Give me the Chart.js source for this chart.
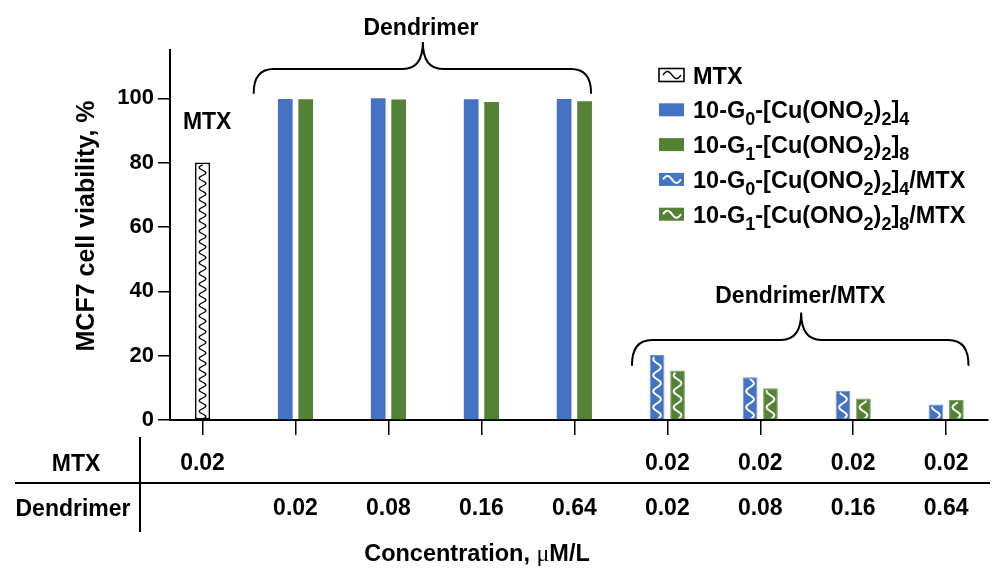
<!DOCTYPE html>
<html><head><meta charset="utf-8">
<script src="https://cdn.jsdelivr.net/npm/chart.js@4.4.1/dist/chart.umd.min.js"></script>
<style>html,body{margin:0;padding:0;background:#fff}#wrap{width:992px;height:571px;position:relative}</style>
</head><body><div id="wrap"><canvas id="c"></canvas></div>
<script>
// ---------- data ----------
const categories = ['MTX', 'D 0.02', 'D 0.08', 'D 0.16', 'D 0.64', 'D/MTX 0.02', 'D/MTX 0.08', 'D/MTX 0.16', 'D/MTX 0.64'];
const mtxConc  = ['0.02', '', '', '', '', '0.02', '0.02', '0.02', '0.02'];
const dendConc = ['', '0.02', '0.08', '0.16', '0.64', '0.02', '0.08', '0.16', '0.64'];
const yTickValues = [0, 20, 40, 60, 80, 100];
const seriesNames = ['MTX', '10-G_0-[Cu(ONO_2)_2]_4', '10-G_1-[Cu(ONO_2)_2]_8', '10-G_0-[Cu(ONO_2)_2]_4/MTX', '10-G_1-[Cu(ONO_2)_2]_8/MTX'];
const mtxValues   = [80, null, null, null, null, null, null, null, null];
const g0Values    = [null, 99.8, 100, 99.7, 99.8, null, null, null, null];
const g1Values    = [null, 99.7, 99.6, 98.8, 99.1, null, null, null, null];
const g0MtxValues = [null, null, null, null, null, 20.2, 13.3, 9.1, 4.8];
const g1MtxValues = [null, null, null, null, null, 15.4, 9.9, 6.7, 6.2];
const groupLabels = ['Dendrimer', 'Dendrimer/MTX'];
const rowLabels = ['MTX', 'Dendrimer'];
const yTitle = 'MCF7 cell viability, %';

// ---------- styles ----------
const FF = '"Liberation Sans", Arial, sans-serif';
const BLUE = '#4472C4', GREEN = '#548235';
const seriesStyle = [
  {fill: '#ffffff', border: '#000000', bw: 1.6, wave: '#000000', amp: 3.3, period: 10.6, lw: 1.4},
  {fill: BLUE, border: BLUE, bw: 0, wave: null},
  {fill: GREEN, border: GREEN, bw: 0, wave: null},
  {fill: BLUE, border: '#6f93d6', bw: 1, wave: '#ffffff', amp: 3.8, period: 16, lw: 2},
  {fill: GREEN, border: '#7ea064', bw: 1, wave: '#ffffff', amp: 3.8, period: 16, lw: 2}
];
const allValues = [mtxValues, g0Values, g1Values, g0MtxValues, g1MtxValues];

function parseRich(s) {
  const out = [];
  s.split(/_(\d)/).forEach((p, i) => { if (p) out.push({t: p, sub: i % 2 === 1}); });
  return out;
}
function drawRich(ctx, segs, x, y, size, align, subRatio) {
  const sr = subRatio || 0.68;
  const main = `bold ${size}px ${FF}`, sub = `bold ${Math.round(size * sr)}px ${FF}`;
  let total = 0;
  segs.forEach(s => { ctx.font = s.font || (s.sub ? sub : main); s.w = ctx.measureText(s.t).width; total += s.w; });
  let cx = align === 'center' ? x - total / 2 : x;
  ctx.textAlign = 'left'; ctx.textBaseline = 'alphabetic'; ctx.fillStyle = '#000';
  segs.forEach(s => { ctx.font = s.font || (s.sub ? sub : main); ctx.fillText(s.t, cx, y + (s.sub ? size * 0.3 : 0)); cx += s.w; });
}
function vWave(ctx, cx, yTop, yBot, amp, period) {
  ctx.beginPath();
  for (let y = yBot; y >= yTop - 1; y -= 0.5) {
    const x = cx + amp * Math.sin(2 * Math.PI * (yBot - y) / period);
    if (y === yBot) ctx.moveTo(x, y); else ctx.lineTo(x, y);
  }
  ctx.stroke();
}
function hWave(ctx, xL, xR, cy, amp, period) {
  ctx.beginPath();
  for (let x = xL; x <= xR; x += 0.5) {
    const y = cy - amp * Math.sin(2 * Math.PI * (x - xL) / period);
    if (x === xL) ctx.moveTo(x, y); else ctx.lineTo(x, y);
  }
  ctx.stroke();
}
function brace(ctx, x1, x2, xc, yEnd, yMid, yTip, r) {
  ctx.beginPath();
  ctx.moveTo(x1, yEnd);
  ctx.quadraticCurveTo(x1, yMid, x1 + r, yMid);
  ctx.lineTo(xc - r, yMid);
  ctx.quadraticCurveTo(xc, yMid, xc, yTip);
  ctx.quadraticCurveTo(xc, yMid, xc + r, yMid);
  ctx.lineTo(x2 - r, yMid);
  ctx.quadraticCurveTo(x2, yMid, x2, yEnd);
  ctx.stroke();
}

const wavePlugin = {
  id: 'waves',
  afterDatasetsDraw(chart) {
    const ctx = chart.ctx;
    chart.data.datasets.forEach((ds, di) => {
      const st = seriesStyle[di];
      if (!st.wave) return;
      chart.getDatasetMeta(di).data.forEach((el, i) => {
        if (ds.data[i].y == null) return;
        const {x, y, base, width} = el.getProps(['x', 'y', 'base', 'width'], true);
        ctx.save();
        ctx.beginPath();
        ctx.rect(x - width / 2 + 1, y + 1, width - 2, base - y - 2);
        ctx.clip();
        ctx.strokeStyle = st.wave; ctx.lineWidth = st.lw;
        vWave(ctx, x, y + 3, base, st.amp, st.period);
        ctx.restore();
      });
    });
  }
};

const annotPlugin = {
  id: 'annot',
  afterDraw(chart) {
    const ctx = chart.ctx, xs = chart.scales.x, ys = chart.scales.y;
    const X = v => xs.getPixelForValue(v), Y = v => ys.getPixelForValue(v);
    ctx.save();
    ctx.strokeStyle = '#000'; ctx.lineWidth = 2; ctx.lineCap = 'round';
    // braces
    brace(ctx, X(0.55), X(4.18), X(2.37), Y(101.6), Y(109.1), Y(117.5), 20);
    brace(ctx, X(4.62), X(8.24), X(6.44), Y(17.1), Y(24.9), Y(33.4), 20);
    drawRich(ctx, [{t: groupLabels[0]}], X(2.35), Y(122) + 8, 23, 'center');
    drawRich(ctx, [{t: groupLabels[1]}], X(6.43), Y(38.7) + 8, 23, 'center');
    drawRich(ctx, [{t: 'MTX'}], X(0.05), Y(92.8) + 8, 23, 'center');
    // y title
    ctx.save();
    ctx.translate(94, 226);
    ctx.rotate(-Math.PI / 2);
    drawRich(ctx, [{t: yTitle}], 0, 0, 25, 'center');
    ctx.restore();
    // table lines
    ctx.lineCap = 'butt';
    ctx.beginPath(); ctx.moveTo(15, 483); ctx.lineTo(990, 483); ctx.stroke();
    ctx.beginPath(); ctx.moveTo(140, 437); ctx.lineTo(140, 532); ctx.stroke();
    drawRich(ctx, [{t: rowLabels[0]}], 76, 471, 23, 'center');
    drawRich(ctx, [{t: rowLabels[1]}], 73, 516, 23, 'center');
    // x title
    drawRich(ctx, [{t: 'Concentration, '}, {t: 'μ', font: `24px "Liberation Serif", serif`}, {t: 'M/L'}], 477, 561, 23.5, 'center');
    // legend
    seriesNames.forEach((name, i) => {
      const st = seriesStyle[i];
      const cy = 75 + i * 34.8;
      const ix = 659, iw = 25, ih = 13;
      ctx.fillStyle = st.fill;
      ctx.fillRect(ix, cy - ih / 2, iw, ih);
      if (st.bw && i === 0) { ctx.lineWidth = 1.6; ctx.strokeStyle = '#000'; ctx.strokeRect(ix, cy - ih / 2, iw, ih); }
      if (st.wave) {
        ctx.save();
        ctx.beginPath(); ctx.rect(ix + 1, cy - ih / 2 + 1, iw - 2, ih - 2); ctx.clip();
        ctx.strokeStyle = st.wave; ctx.lineWidth = i === 0 ? 1.4 : 2;
        hWave(ctx, ix + 4, ix + iw - 3, cy, 3.5, 18);
        ctx.restore();
      }
      drawRich(ctx, parseRich(name), 693, cy + 8.5, 23.5, 'left', 0.76);
    });
    ctx.restore();
  }
};

const datasets = allValues.map((vals, di) => ({
  label: seriesNames[di].replace(/_/g, ''),
  data: categories.map((c, i) => ({x: i, y: vals[i]})),
  backgroundColor: seriesStyle[di].fill,
  borderColor: seriesStyle[di].border,
  borderWidth: seriesStyle[di].bw,
  borderSkipped: di === 0 ? false : 'start'
}));

new Chart(document.getElementById('c'), {
  type: 'bar',
  data: {datasets},
  options: {
    responsive: true,
    maintainAspectRatio: false,
    animation: false,
    skipNull: true,
    categoryPercentage: 0.44,
    barPercentage: 0.72,
    maxBarThickness: 15,
    layout: {padding: {top: 50, right: 4, left: 0, bottom: 0}},
    plugins: {legend: {display: false}, tooltip: {enabled: false}},
    scales: {
      x: {
        type: 'linear',
        offset: false,
        min: -0.35, max: 8.45,
        afterBuildTicks: s => { s.ticks = categories.map((c, i) => ({value: i})); },
        afterFit: s => { s.height = 151; },
        border: {display: true, color: '#000', width: 2},
        grid: {display: true, offset: false, drawOnChartArea: false, drawTicks: true, tickLength: 15, color: '#000', lineWidth: 1.5},
        ticks: {
          autoSkip: false, maxRotation: 0, padding: 6, color: '#000',
          font: {family: FF, size: 23, weight: 'bold', lineHeight: '45px'},
          callback: v => [mtxConc[v] || '', dendConc[v] || '']
        }
      },
      y: {
        min: 0, max: 115,
        afterBuildTicks: s => { s.ticks = yTickValues.map(v => ({value: v})); },
        afterFit: s => { s.width = 170; },
        border: {display: true, color: '#000', width: 2},
        grid: {display: true, drawOnChartArea: false, drawTicks: true, tickLength: 12, color: '#000', lineWidth: 1.5},
        ticks: {padding: 4, color: '#000', font: {family: FF, size: 22, weight: 'bold'}},
        title: {display: false}
      }
    }
  },
  plugins: [wavePlugin, annotPlugin]
});
</script>
</body></html>
